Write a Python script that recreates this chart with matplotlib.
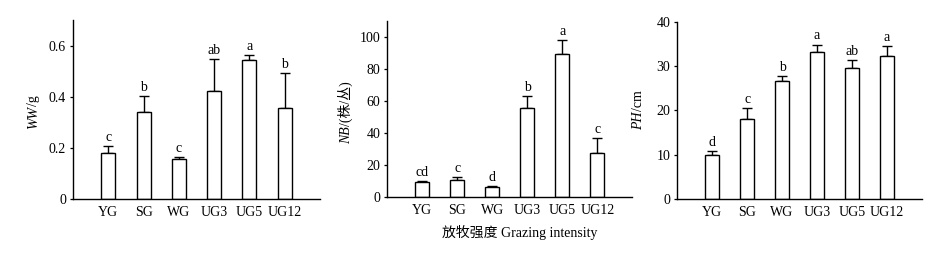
import matplotlib
matplotlib.use("Agg")
import matplotlib.pyplot as plt
import numpy as np

categories = ["YG", "SG", "WG", "UG3", "UG5", "UG12"]

ww_mean = [0.179, 0.341, 0.155, 0.420, 0.542, 0.354]
ww_err = [0.028, 0.062, 0.008, 0.126, 0.019, 0.137]
ww_letters = ["c", "b", "c", "ab", "a", "b"]
ww_ticks = [0, 0.2, 0.4, 0.6]
ww_ticklabels = ["0", "0.2", "0.4", "0.6"]

nb_mean = [9.3, 10.6, 6.2, 55.4, 89.0, 27.4]
nb_err = [1.1, 1.8, 0.6, 7.8, 8.7, 9.3]
nb_letters = ["cd", "c", "d", "b", "a", "c"]
nb_ticks = [0, 20, 40, 60, 80, 100]
nb_ticklabels = ["0", "20", "40", "60", "80", "100"]

ph_mean = [9.8, 18.0, 26.6, 33.3, 29.5, 32.2]
ph_err = [0.9, 2.45, 1.1, 1.6, 1.8, 2.3]
ph_letters = ["d", "c", "b", "a", "ab", "a"]
ph_ticks = [0, 10, 20, 30, 40]
ph_ticklabels = ["0", "10", "20", "30", "40"]

xlabel_text = "放牧强度 Grazing intensity"

SERIF = "Liberation Serif"
MIXED = ["Liberation Serif", "Noto Sans CJK SC"]
FS = 10

W, H = 938, 254
fig = plt.figure(figsize=(W / 100, H / 100), dpi=100)

panels = [
    dict(pos=(73, 320, 20, 198.7), mean=ww_mean, err=ww_err, letters=ww_letters,
         ticks=ww_ticks, labels=ww_ticklabels, ylim=(0, 0.7),
         ylabel=[("WW", "italic"), ("/g", "normal")], ylab_x=37, ylab_yc=112),
    dict(pos=(387.3, 632.3, 20.7, 197.3), mean=nb_mean, err=nb_err, letters=nb_letters,
         ticks=nb_ticks, labels=nb_ticklabels, ylim=(0, 110),
         ylabel=[("NB", "italic"), ("/(株/丛)", "normal")], ylab_x=350, ylab_yc=112.5),
    dict(pos=(677.3, 921.7, 22, 198.7), mean=ph_mean, err=ph_err, letters=ph_letters,
         ticks=ph_ticks, labels=ph_ticklabels, ylim=(0, 40),
         ylabel=[("PH", "italic"), ("/cm", "normal")], ylab_x=642, ylab_yc=110),
]

x = np.arange(len(categories))
renderer = fig.canvas.get_renderer()

for p in panels:
    l, r, t, b = p["pos"]
    ax = fig.add_axes([l / W, 1 - b / H, (r - l) / W, (b - t) / H])
    ax.bar(x, p["mean"], width=0.4, color="white", edgecolor="black", linewidth=1.0, zorder=2)
    ax.errorbar(x, p["mean"], yerr=[np.zeros(len(x)), p["err"]], fmt="none",
                ecolor="black", elinewidth=1.0, capsize=3.5, capthick=1.0, zorder=1)
    for xi, m, e, lt in zip(x, p["mean"], p["err"], p["letters"]):
        ax.annotate(lt, (xi, m + e), xytext=(0, 1.5), textcoords="offset points",
                    ha="center", va="bottom", fontsize=FS, family=SERIF)
    ax.set_xlim(-1, 6)
    ax.set_ylim(*p["ylim"])
    ax.set_yticks(p["ticks"])
    ax.set_yticklabels(p["labels"], family=SERIF, fontsize=FS)
    ax.set_xticks(x)
    ax.set_xticklabels(categories, family=SERIF, fontsize=FS)
    ax.tick_params(axis="x", length=0, pad=5)
    ax.tick_params(axis="y", length=2, width=0.9, pad=3, direction="out")
    for s in ["top", "right"]:
        ax.spines[s].set_visible(False)
    for s in ["left", "bottom"]:
        ax.spines[s].set_linewidth(1.0)

    # rotated, mixed-style y label built from pieces
    pieces = []
    total = 0
    for txt, style in p["ylabel"]:
        tobj = fig.text(0, 0, txt, rotation=90, rotation_mode="anchor", ha="left",
                        va="baseline", fontsize=FS, style=style,
                        family=SERIF if style == "italic" else MIXED)
        ext = tobj.get_window_extent(renderer)
        pieces.append((tobj, ext.height))
        total += ext.height
    y0 = p["ylab_yc"] + total / 2  # image coords (from top)
    cur = H - y0
    for tobj, h in pieces:
        tobj.set_position((p["ylab_x"] / W, cur / H))
        cur += h

fig.text(520 / W, 1 - 232 / H, xlabel_text, ha="center", va="center",
         fontsize=FS, family=MIXED)

fig.savefig("out.png", dpi=100, facecolor="white")
